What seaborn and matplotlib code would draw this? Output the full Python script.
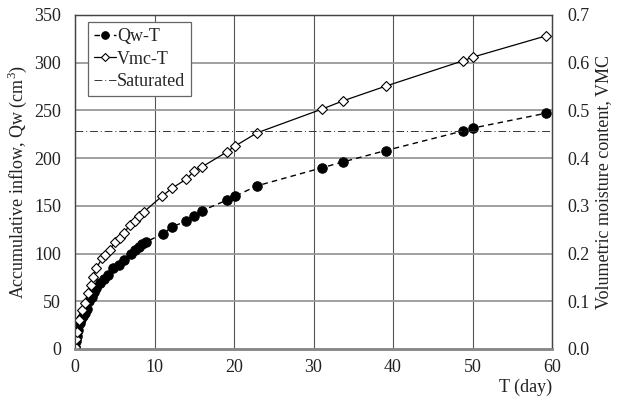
import matplotlib
matplotlib.use("Agg")
import matplotlib.pyplot as plt
import seaborn as sns
import pandas as pd

# Data
qw_t = [0, 0.1, 0.2, 0.4, 0.6, 0.8, 1.0, 1.3, 1.5, 1.8, 2.1, 2.4, 2.7, 3.1, 3.6,
        4.2, 4.8, 5.5, 6.1, 7.0, 7.5, 8.0, 8.4, 8.9, 11.1, 12.2, 14.0, 15.0, 16.0,
        19.1, 20.1, 22.9, 31.1, 33.7, 39.1, 48.8, 50.1, 59.2]
qw_val = [2, 8, 14, 20, 27, 31, 35, 38, 42, 50, 55, 60, 64, 69, 73,
          78, 85, 88, 93, 100, 104, 107, 110, 112, 121, 128, 134, 139, 145,
          156, 160, 171, 190, 196, 208, 228.5, 231.6, 247]

vmc_t = [0, 0.1, 0.2, 0.5, 0.9, 1.2, 1.6, 2.0, 2.3, 2.7, 3.4, 3.8, 4.4, 5.0, 5.7,
         6.2, 6.9, 7.5, 8.1, 8.7, 11.0, 12.2, 14.0, 15.0, 16.0, 19.1, 20.1, 22.9,
         31.1, 33.7, 39.1, 48.8, 50.1, 59.2]
vmc_val = [0.004, 0.02, 0.036, 0.06, 0.082, 0.096, 0.117, 0.135, 0.15, 0.17, 0.19,
           0.198, 0.208, 0.224, 0.232, 0.244, 0.26, 0.268, 0.278, 0.288, 0.321,
           0.337, 0.356, 0.373, 0.382, 0.413, 0.425, 0.453, 0.503, 0.52, 0.551,
           0.604, 0.612, 0.656]

saturated_t = [0, 60]
saturated_val = [0.456, 0.456]

x_ticks = [0, 10, 20, 30, 40, 50, 60]
y_left_ticks = [0, 50, 100, 150, 200, 250, 300, 350]
y_right_ticks = [0.0, 0.1, 0.2, 0.3, 0.4, 0.5, 0.6, 0.7]

sns.set_style("white")
plt.rcParams['font.family'] = ['Liberation Serif', 'DejaVu Serif']
plt.rcParams['mathtext.fontset'] = 'custom'
plt.rcParams['mathtext.rm'] = 'Liberation Serif'

fig = plt.figure(figsize=(6.23, 4.03), dpi=100)
ax = fig.add_axes([0.1204, 0.134, 0.7657, 0.8288])
ax2 = ax.twinx()

df_qw = pd.DataFrame({"T": qw_t, "Qw": qw_val})
df_vmc = pd.DataFrame({"T": vmc_t, "VMC": vmc_val})
df_sat = pd.DataFrame({"T": saturated_t, "VMC": saturated_val})

sns.lineplot(data=df_qw, x="T", y="Qw", ax=ax, color="black", linestyle=(0, (4, 3)),
             linewidth=1.0, marker="o", markersize=6.8, markerfacecolor="black",
             markeredgecolor="black", sort=False, label="Qw-T", legend=False)

sns.lineplot(data=df_vmc, x="T", y="VMC", ax=ax2, color="black", linestyle="-",
             linewidth=0.9, marker="D", markersize=5.5, markerfacecolor="white",
             markeredgecolor="black", markeredgewidth=0.8, sort=False,
             label="Vmc-T", legend=False)
sns.lineplot(data=df_sat, x="T", y="VMC", ax=ax2, color="#333333",
             linestyle=(0, (8, 3, 1, 3)), linewidth=0.7, sort=False,
             label="Saturated", legend=False)

ax.set_xlim(0, 60)
ax.set_ylim(0, 350)
ax2.set_ylim(0, 0.7)
ax.set_xticks(x_ticks)
ax.set_yticks(y_left_ticks)
ax2.set_yticks(y_right_ticks)
ax2.set_yticklabels([f"{v:.1f}" for v in y_right_ticks])

ax.grid(False)
ax2.grid(False)
for v in x_ticks[1:-1]:
    ax.axvline(v, color="#555555", linewidth=0.8, zorder=0)
for v in y_left_ticks[1:-1]:
    ax.axhline(v, color="#999999", linewidth=1.3, zorder=0)

for a in (ax, ax2):
    a.tick_params(axis="both", length=0, labelsize=13, colors="#222222")
    for s in a.spines.values():
        s.set_color("#444444")
        s.set_linewidth(0.9)
ax.tick_params(axis="y", pad=10)
ax.tick_params(axis="x", pad=7)
ax2.tick_params(axis="y", pad=11)
ax.spines["bottom"].set_color("#888888")
ax.spines["bottom"].set_linewidth(1.8)
ax2.spines["bottom"].set_color("#888888")
ax2.spines["bottom"].set_linewidth(1.8)

ax.set_xlabel("T (day)", fontsize=13, loc="right", labelpad=2, color="#222222")
ax.set_ylabel("Accumulative inflow, Qw (cm$^3$)", fontsize=13, labelpad=4,
              color="#222222")
ax2.set_ylabel("Volumetric moisture content, VMC", fontsize=13, labelpad=4,
               color="#222222")

h1, l1 = ax.get_legend_handles_labels()
h2, l2 = ax2.get_legend_handles_labels()
leg = ax2.legend(h1 + h2, l1 + l2, loc="upper left", bbox_to_anchor=(0.027, 0.979),
                 borderaxespad=0, fancybox=False, framealpha=1, edgecolor="#666666",
                 fontsize=13, handlelength=1.2, handletextpad=0.05,
                 labelspacing=0.3, borderpad=0.35, markerscale=0.8)
leg.get_frame().set_linewidth(0.9)

fig.savefig("out.png", dpi=100)
